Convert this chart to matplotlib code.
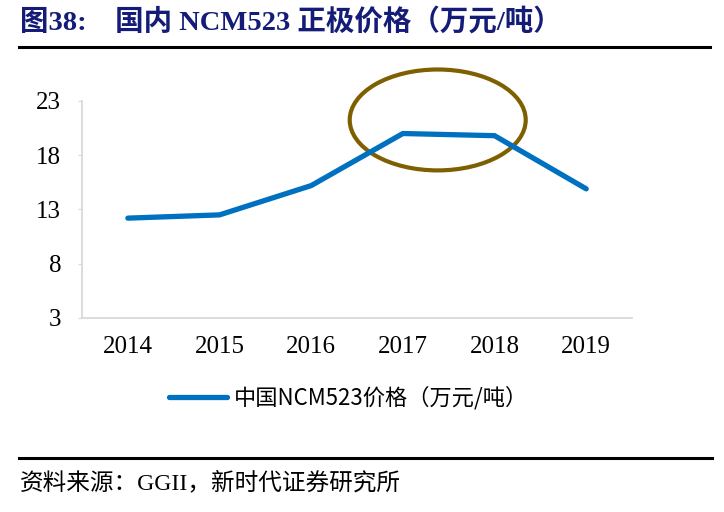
import matplotlib.pyplot as plt
from matplotlib.patches import Ellipse
from matplotlib.lines import Line2D

# --- data ---
years = ['2014', '2015', '2016', '2017', '2018', '2019']
price = [12.2, 12.5, 15.2, 20.0, 19.8, 14.9]
y_ticks = [3, 8, 13, 18, 23]

title = '图38:    国内 NCM523 正极价格（万元/吨）'
series_name = '中国NCM523价格（万元/吨）'
source = '资料来源：GGII，新时代证券研究所'

SERIF = ['Liberation Serif', 'Noto Sans CJK SC']
CJK = ['Noto Sans CJK SC', 'DejaVu Sans']
BLUE = '#0070C0'
NAVY = '#141C78'

fig = plt.figure(figsize=(7.24, 5.12), dpi=100)

# title + rules
fig.text(0.028, 0.957, title, family=SERIF, fontsize=20.5, fontweight='bold',
         color=NAVY, va='center', ha='left')
fig.add_artist(Line2D([0.026, 0.98], [0.909, 0.909], color='black', lw=2.2))
fig.add_artist(Line2D([0.026, 0.984], [0.105, 0.105], color='black', lw=2.2))
fig.text(0.028, 0.057, source, family=SERIF, fontsize=17, color='black',
         va='center', ha='left')

ax = fig.add_axes([0.1133, 0.379, 0.7597, 0.4238])
x = list(range(len(years)))
ax.plot(x, price, color=BLUE, lw=3.8, solid_capstyle='round',
        solid_joinstyle='miter', label=series_name)

ax.set_xlim(-0.5, len(years) - 0.5)
ax.set_ylim(3, 23)
ax.set_yticks(y_ticks)
ax.set_xticks(x)
ax.set_xticklabels(years)

for side in ['top', 'right']:
    ax.spines[side].set_visible(False)
for side in ['left', 'bottom']:
    ax.spines[side].set_color('#d9d9d9')
    ax.spines[side].set_linewidth(1.3)

ax.tick_params(axis='y', length=3, color='#d9d9d9', pad=12)
ax.tick_params(axis='x', length=0, pad=13)
for lab in ax.get_xticklabels() + ax.get_yticklabels():
    lab.set_family(SERIF)
    lab.set_fontsize(18)

# highlight circle around the peak
ell = Ellipse((3.38, 21.25), width=1.92, height=9.3, fill=False,
              edgecolor='#7F6000', lw=3, clip_on=False)
ax.add_patch(ell)

leg = ax.legend(loc='center', bbox_to_anchor=(0.485, -0.37), frameon=False,
                prop={'family': CJK, 'size': 16}, handlelength=2.6,
                handletextpad=0.3)

fig.savefig('out.png', dpi=100)
